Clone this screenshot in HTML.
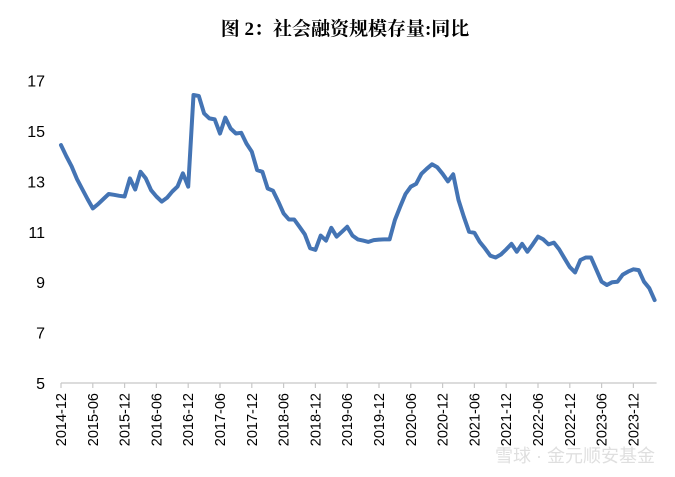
<!DOCTYPE html>
<html><head><meta charset="utf-8"><style>
body{margin:0;background:#fff;}
svg{display:block;}
</style></head><body>
<svg id="chart" width="675" height="477" viewBox="0 0 675 477">
<text x="345" y="35" text-anchor="middle" font-family="'Liberation Serif','Noto Serif CJK SC',serif" font-weight="bold" font-size="19" fill="#000">图 2：社会融资规模存量:同比</text>
<g id="yaxis"></g>
<g id="xaxis"></g>
<g id="series"></g>
<text x="655" y="462" text-anchor="end" font-family="'Liberation Sans','Noto Sans CJK SC',sans-serif" font-size="18" fill="#d8d8d8" opacity="0.8">雪球 · 金元顺安基金</text>
</svg>
<script>
const yTicks = [5, 7, 9, 11, 13, 15, 17];
const xTickLabels = ["2014-12","2015-06","2015-12","2016-06","2016-12","2017-06","2017-12","2018-06","2018-12","2019-06","2019-12","2020-06","2020-12","2021-06","2021-12","2022-06","2022-12","2023-06","2023-12"];
const values = [14.44,14.0,13.6,13.1,12.7,12.3,11.93,12.1,12.3,12.5,12.47,12.43,12.4,13.12,12.68,13.38,13.12,12.65,12.4,12.2,12.35,12.6,12.8,13.32,12.79,16.43,16.39,15.7,15.5,15.46,14.9,15.53,15.1,14.9,14.93,14.5,14.18,13.45,13.38,12.72,12.63,12.2,11.73,11.49,11.49,11.2,10.9,10.35,10.28,10.85,10.65,11.16,10.81,11.0,11.2,10.85,10.7,10.65,10.6,10.67,10.69,10.7,10.7,11.47,12.0,12.5,12.79,12.9,13.3,13.5,13.68,13.56,13.3,13.0,13.28,12.26,11.6,11.0,10.96,10.6,10.34,10.05,9.98,10.1,10.3,10.52,10.21,10.52,10.21,10.5,10.81,10.7,10.5,10.57,10.3,9.95,9.6,9.39,9.88,9.98,9.98,9.5,9.02,8.89,9.0,9.02,9.3,9.42,9.51,9.48,9.02,8.76,8.29];

const NS = "http://www.w3.org/2000/svg";
const x0 = 61, monthW = 5.3, yBase = 383, unitH = 25.2;
function xScale(m){ return x0 + m * monthW; }
function yScale(v){ return yBase - (v - 5) * unitH; }
function mk(tag, attrs, parent){ const e = document.createElementNS(NS, tag); for (const k in attrs) e.setAttribute(k, attrs[k]); parent.appendChild(e); return e; }

const yg = document.getElementById('yaxis');
yTicks.forEach(t => {
  const tx = mk('text', {x: 45, y: yScale(t) + 6, 'text-anchor': 'end', 'font-family': "'Liberation Sans',sans-serif", 'font-size': 16, fill: '#000'}, yg);
  
  
  tx.textContent = t;
});

const xg = document.getElementById('xaxis');
const axisEnd = xScale(values.length - 1) + 2;
const axl = mk('line', {x1: x0, x2: axisEnd, y1: yBase, y2: yBase, stroke: '#c8c8c8', 'stroke-width': 1.2}, xg);


xTickLabels.forEach((lab, i) => {
  const x = xScale(i * 6);
  const tk = mk('line', {x1: x, x2: x, y1: yBase, y2: yBase + 5, stroke: '#c8c8c8', 'stroke-width': 1.2}, xg);
  
  
  const tx = mk('text', {x: 0, y: 0, 'text-anchor': 'end', transform: `translate(${x + 5},${yBase + 10}) rotate(-90)`, 'font-family': "'Liberation Sans',sans-serif", 'font-size': 14.5, fill: '#000'}, xg);
  
  
  tx.textContent = lab;
});

const sg = document.getElementById('series');
const d = values.map((v, i) => (i ? 'L' : 'M') + xScale(i).toFixed(1) + ',' + yScale(v).toFixed(1)).join(' ');
const p = mk('path', {d: d, fill: 'none', stroke: '#4474b4', 'stroke-width': 4, 'stroke-linejoin': 'round', 'stroke-linecap': 'round'}, sg);


</script>
</body></html>
